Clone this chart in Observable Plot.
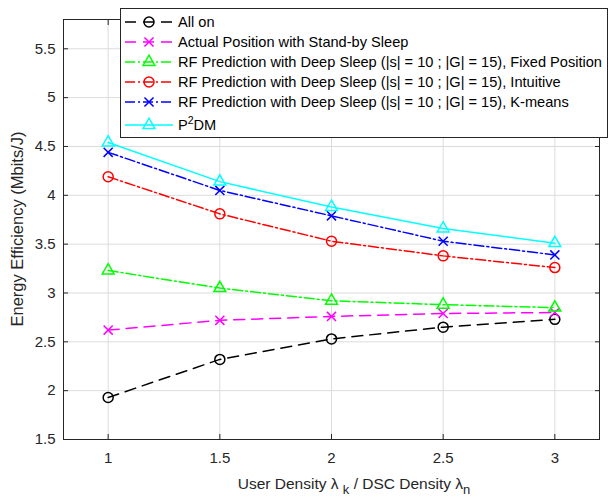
<!DOCTYPE html>
<html>
<head>
<meta charset="utf-8">
<script src="https://cdn.jsdelivr.net/npm/d3@7"></script>
<script src="https://cdn.jsdelivr.net/npm/@observablehq/plot@0.6"></script>
<style>
  html, body { margin: 0; padding: 0; background: #fff; }
  #chart { position: relative; width: 610px; height: 498px; }
  svg { font-family: "Liberation Sans", Arial, Helvetica, sans-serif; }
</style>
</head>
<body>
<div id="chart"></div>
<script>
// ---- data ----
const xValues = [1, 1.5, 2, 2.5, 3];
const allOn = [1.93, 2.32, 2.53, 2.65, 2.73];
const actualStandby = [2.62, 2.72, 2.76, 2.79, 2.80];
const rfFixed = [3.23, 3.05, 2.92, 2.88, 2.85];
const rfIntuitive = [4.19, 3.81, 3.53, 3.38, 3.26];
const rfKmeans = [4.44, 4.05, 3.79, 3.53, 3.39];
const p2dm = [4.54, 4.14, 3.88, 3.66, 3.51];

const seriesNames = [
  "All on",
  "Actual Position with Stand-by Sleep",
  "RF Prediction with Deep Sleep (|s| = 10 ; |G| = 15), Fixed Position",
  "RF Prediction with Deep Sleep (|s| = 10 ; |G| = 15), Intuitive",
  "RF Prediction with Deep Sleep (|s| = 10 ; |G| = 15), K-means",
  "P2DM"
];
const seriesValues = [allOn, actualStandby, rfFixed, rfIntuitive, rfKmeans, p2dm];
const seriesColors = ["#000000", "#ff00ff", "#00ff00", "#ff0000", "#0000ff", "#00ffff"];
const seriesSymbols = ["circle", "times", "triangle", "circle", "times", "triangle"];
const seriesDash = ["11,7", "11,7", "10,3,2,3", "10,3,2,3", "10,3,2,3", null];
const seriesR = {circle: 5, times: 4.2, triangle: 4.4};

const xTicks = [1, 1.5, 2, 2.5, 3];
const yTicks = [1.5, 2, 2.5, 3, 3.5, 4, 4.5, 5, 5.5];
const xDomain = [0.8, 3.2];
const yDomain = [1.5, 5.8];
const xLabelParts = [["User Density λ ", 0], ["k", 1], [" / DSC Density λ", 0], ["n", 1]];
const yLabel = "Energy Efficiency (Mbits/J)";

// ---- tidy table ----
const rows = [];
seriesNames.forEach((name, i) => {
  seriesValues[i].forEach((v, j) => rows.push({series: name, idx: i, x: xValues[j], y: v}));
});

const marks = [
  Plot.gridX(xTicks, {stroke: "#dcdcdc", strokeOpacity: 1}),
  Plot.gridY(yTicks, {stroke: "#dcdcdc", strokeOpacity: 1}),
];
seriesNames.forEach((name, i) => {
  const d = rows.filter(r => r.idx === i);
  marks.push(Plot.line(d, {x: "x", y: "y", stroke: seriesColors[i], strokeWidth: 1.5,
    strokeDasharray: seriesDash[i] || undefined}));
  marks.push(Plot.dot(d, {x: "x", y: "y", stroke: seriesColors[i], fill: "none", strokeWidth: 1.5,
    symbol: seriesSymbols[i], r: seriesR[seriesSymbols[i]]}));
});
marks.push(
  Plot.frame({stroke: "#262626", strokeWidth: 1}),
  Plot.axisX(xTicks, {anchor: "bottom", tickSize: -5, tickFormat: () => "", label: null, stroke: "#262626"}),
  Plot.axisX(xTicks, {anchor: "top", tickSize: -5, tickFormat: () => "", label: null, stroke: "#262626"}),
  Plot.axisY(yTicks, {anchor: "left", tickSize: -5, tickFormat: () => "", label: null, stroke: "#262626"}),
  Plot.axisY(yTicks, {anchor: "right", tickSize: -5, tickFormat: () => "", label: null, stroke: "#262626"}),
  Plot.axisX(xTicks, {anchor: "bottom", tickSize: 0, tickPadding: 13, label: null, fontSize: 15,
    fill: "#262626", tickFormat: d => String(d)}),
  Plot.axisY(yTicks, {anchor: "left", tickSize: 0, tickPadding: 8, label: null, fontSize: 15,
    fill: "#262626", tickFormat: d => String(d)})
);

const plot = Plot.plot({
  width: 610,
  height: 498,
  marginLeft: 63,
  marginRight: 11,
  marginTop: 19,
  marginBottom: 59,
  x: {domain: xDomain},
  y: {domain: yDomain},
  style: {fontFamily: '"Liberation Sans", Arial, sans-serif', background: "#fff", overflow: "visible"},
  marks
});
document.getElementById("chart").appendChild(plot);

const svg = d3.select(plot);

// x label with subscripts
const xl = svg.append("text")
  .attr("x", 354).attr("y", 489)
  .attr("text-anchor", "middle")
  .attr("font-size", 15.5)
  .attr("fill", "#262626");
xLabelParts.forEach(([t, sub], k) => {
  const ts = xl.append("tspan").text(t);
  if (sub) ts.attr("dy", 5).attr("font-size", 13);
  else ts.attr("dy", k > 0 ? -5 : 0);
});

// y label
svg.append("text")
  .attr("transform", "translate(22.5,229) rotate(-90)")
  .attr("text-anchor", "middle")
  .attr("font-size", 16.5)
  .attr("fill", "#262626")
  .text(yLabel);

// legend
const lg = svg.append("g").attr("text-anchor", "start");
lg.append("rect").attr("x", 120.5).attr("y", 8.5).attr("width", 487).attr("height", 129)
  .attr("fill", "#fff").attr("stroke", "#262626").attr("stroke-width", 1);
const rowY = [22, 42, 62, 82, 102, 125];
const symMap = {circle: d3.symbolCircle, times: d3.symbolTimes, triangle: d3.symbolTriangle};
seriesNames.forEach((name, i) => {
  const y = rowY[i];
  lg.append("line").attr("x1", 125).attr("x2", 173).attr("y1", y).attr("y2", y)
    .attr("stroke", seriesColors[i]).attr("stroke-width", 1.5)
    .attr("stroke-dasharray", seriesDash[i] || null);
  const r = seriesR[seriesSymbols[i]];
  lg.append("path").attr("transform", `translate(149,${y})`)
    .attr("d", d3.symbol(symMap[seriesSymbols[i]], Math.PI * r * r)())
    .attr("fill", "none").attr("stroke", seriesColors[i]).attr("stroke-width", 1.5);
  const t = lg.append("text").attr("x", 178).attr("y", y).attr("dy", "0.35em")
    .attr("text-anchor", "start")
    .attr("font-size", 14.6).attr("fill", "#000");
  if (name === "P2DM") {
    t.append("tspan").text("P");
    t.append("tspan").text("2").attr("dy", -6).attr("font-size", 10.5);
    t.append("tspan").text("DM").attr("dy", 6);
  } else {
    t.text(name);
  }
});
</script>
</body>
</html>
